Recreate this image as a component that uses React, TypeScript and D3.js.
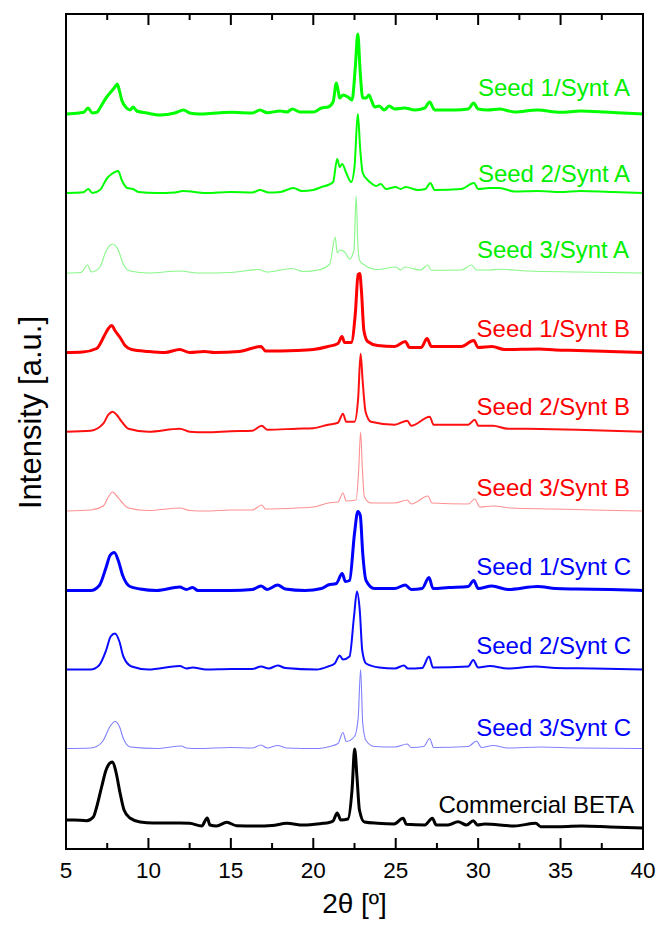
import React from 'react';
import * as d3 from 'd3';

type Pt = [number, number];

const xMajorTicks = [5, 10, 15, 20, 25, 30, 35, 40];
const xMinorTicks = [7.5, 12.5, 17.5, 22.5, 27.5, 32.5, 37.5];

const seriesNames = [
  'Seed 1/Synt A', 'Seed 2/Synt A', 'Seed 3/Synt A',
  'Seed 1/Synt B', 'Seed 2/Synt B', 'Seed 3/Synt B',
  'Seed 1/Synt C', 'Seed 2/Synt C', 'Seed 3/Synt C',
  'Commercial BETA',
];
const lineColors = ['#00ff00', '#00ff00', '#88f888', '#ff0000', '#ff1010', '#ff9090', '#0000ff', '#0a0aff', '#8080ff', '#000000'];
const labelColors = ['#00ee00', '#00ee00', '#00ee00', '#ff0000', '#ff0000', '#ff0000', '#0000ff', '#0000ff', '#0000ff', '#000000'];
const lineWidths = [3, 2, 1.1, 3, 2, 1.1, 3, 2, 1.1, 3];
// vertical offsets of each stacked pattern (a.u.)
const offsets = [735, 656, 576, 496.5, 417.3, 338, 258.5, 179.5, 100.5, 21];

const seed1SyntA: Pt[] = [[5.0,0],[5.8,1],[6.1,2],[6.33,6],[6.6,1],[6.9,2],[7.06,6],[7.47,17],[7.77,23],[7.97,27],[8.11,30],[8.23,24],[8.38,14],[8.68,6],[8.88,4],[9.08,7],[9.29,3],[9.9,1],[10.7,-1],[11.6,1],[12.14,4],[12.5,1],[13.1,0],[14.1,1],[15.1,1.7],[16.3,1],[16.77,4],[17.2,1.3],[18.0,3],[18.4,2],[18.73,5],[19.2,2],[20.0,2],[20.5,6],[20.9,7],[21.2,12],[21.4,31],[21.5,24],[21.6,16],[21.8,19],[22.1,17],[22.35,14],[22.55,47],[22.7,80],[22.85,41],[23.0,16],[23.2,16],[23.38,19],[23.52,14],[23.72,7],[24.0,8],[24.3,4],[24.6,8],[24.94,5],[25.55,6],[26.15,4],[26.76,6],[27.06,12],[27.36,4],[28.58,4],[29.4,5],[29.73,11],[29.99,5],[30.6,4],[31.3,5],[32.2,2],[33.6,4],[35.0,1.7],[36.2,3],[37.7,2],[39.1,0.7],[40,0]];
const seed2SyntA: Pt[] = [[5,0],[6.05,0.7],[6.35,4],[6.6,0],[7.06,3],[7.5,15],[7.77,19],[8.17,22],[8.38,13],[8.72,5],[9.06,4],[9.4,1],[10.5,0],[11.6,0.5],[12.1,2],[13.5,0],[15,1],[16.3,0.5],[16.77,3],[17.3,0.5],[18.0,1],[18.8,5],[19.3,2],[20.0,3],[20.5,6],[20.9,8],[21.2,11],[21.45,34],[21.6,26],[21.75,29],[22.0,20],[22.3,11],[22.5,26],[22.7,79],[22.85,43],[23.0,20],[23.3,13],[23.5,10],[23.8,7],[24.1,9],[24.4,4],[25.0,6],[25.3,4],[25.6,6],[26.35,3],[26.8,4],[27.1,10],[27.36,3],[28.98,4],[29.75,10],[30.0,4],[30.7,5],[31.3,5],[32.2,1.5],[33.6,2],[35,1],[36.2,2],[38,1],[40,0]];
const seed3SyntA: Pt[] = [[5,0],[5.9,0.5],[6.3,8],[6.55,1],[7.06,6],[7.43,22],[7.83,29],[8.17,23],[8.47,9],[8.88,2],[10,0],[11.9,2],[13,0],[15,0.5],[16.67,3.5],[17.2,1],[18.69,4.5],[19.4,1.5],[20.3,3],[21.0,9],[21.33,36],[21.45,20],[21.6,23],[21.9,21],[22.2,14],[22.47,23],[22.6,77],[22.7,30],[22.8,13],[23.1,8],[23.9,3.5],[25.0,6],[25.3,3],[25.55,6],[26.5,3],[26.96,8],[27.16,2.7],[29.0,3],[29.6,8],[29.9,3],[30.7,3],[31.3,3.7],[33,2],[36,1],[40,0]];
const seed1SyntB: Pt[] = [[5,0],[6.0,0.5],[6.86,4],[7.3,16],[7.57,24],[7.77,27],[7.97,22],[8.28,15],[8.58,7],[8.98,3],[10,1],[11,0],[11.9,3],[12.5,0],[13.4,1],[14,0],[15.5,1],[16.83,6],[17.1,1.5],[19,2],[20,3],[20.9,6],[21.5,9],[21.74,16],[21.9,10],[22.3,10],[22.55,39],[22.72,78],[22.82,79],[22.92,62],[23.07,22],[23.3,11],[23.9,7],[24.94,6],[25.58,11],[25.84,5],[26.55,5],[26.9,14],[27.16,6],[28.98,6],[29.73,12],[30.0,5],[30.84,6],[31.6,3],[33.7,3.5],[34.7,2.5],[36,2],[38,1],[40,0]];
const seed2SyntB: Pt[] = [[5,0],[6.5,1],[7.26,8],[7.57,17],[7.83,20],[8.07,17],[8.38,10],[8.78,3],[10,0],[11.9,3],[12.5,0],[13.5,-0.5],[15,0.5],[16.3,1],[16.87,6],[17.2,2],[19,3],[20,3.5],[20.9,7],[21.5,9],[21.8,18],[22.0,10],[22.5,10],[22.72,33],[22.87,78],[22.99,52],[23.17,20],[23.5,10],[24.94,7],[25.7,11],[25.94,6],[27.06,15],[27.3,7],[29.4,7],[29.8,12],[30.0,6],[30.9,6],[31.8,3],[33.8,2.7],[36,2],[38,1],[40,0]];
const seed3SyntB: Pt[] = [[5,0],[6.5,1],[7.26,5],[7.57,14],[7.83,19],[8.03,16],[8.38,9],[8.78,3],[10,0.5],[11.9,3],[12.5,0.5],[13.5,0],[15,1],[16.3,1],[16.87,6],[17.1,2],[19,3],[20,4],[20.9,8],[21.5,9],[21.8,18],[22.0,10],[22.6,11],[22.75,40],[22.87,79],[22.97,45],[23.1,14],[23.5,8],[24.94,8],[25.7,11],[25.94,7],[26.96,15],[27.2,8],[29.4,7],[29.8,12],[30.1,4],[30.9,5],[32.0,3],[34.6,2],[37,1],[40,0]];
const seed1SyntC: Pt[] = [[5,0],[6.5,0],[7.02,5],[7.43,23],[7.67,35],[7.93,38],[8.17,30],[8.44,15],[8.88,4],[9.5,1.5],[10.5,0],[11.9,3.5],[12.3,1],[12.68,3],[13,0],[15,0],[16.3,1],[16.83,4.5],[17.2,1],[17.84,5.5],[18.3,1.5],[19.5,0],[20.5,2],[20.9,5.5],[21.4,7],[21.75,17],[21.95,9],[22.2,10],[22.5,57],[22.7,79],[22.85,75],[23.0,37],[23.2,10],[23.7,2],[24.94,2],[25.58,5.5],[25.94,1],[26.6,2],[27.02,13],[27.26,2],[28.2,3],[29.4,4],[29.73,10],[30.0,2],[30.84,4.5],[31.8,1],[33.6,4],[34.7,2],[36,1.5],[38,1],[40,0]];
const seed2SyntC: Pt[] = [[5,0],[6.5,0],[7.0,4],[7.43,19],[7.71,33],[7.97,36],[8.24,28],[8.48,13],[8.98,3],[10,0],[11.9,3.5],[12.3,1],[12.68,2],[13.5,0],[15,0.5],[16.3,0.5],[16.83,3],[17.3,1],[17.84,4],[18.3,1.5],[20.2,0],[20.9,3],[21.3,6],[21.6,14],[21.8,10],[22.2,13],[22.47,53],[22.65,78],[22.82,59],[22.97,19],[23.2,6],[24.0,2],[24.94,1],[25.5,4],[25.74,1],[26.6,1.5],[27.02,13],[27.26,2],[29.4,3],[29.7,9.5],[30.0,2],[30.7,3.5],[31.8,1],[33.5,3],[34.7,1.5],[37,1],[40,0]];
const seed3SyntC: Pt[] = [[5,0],[6.5,0.5],[6.86,2],[7.26,8],[7.67,22],[7.97,27],[8.24,22],[8.48,10],[8.9,1.5],[10.5,0],[12.0,2.5],[12.3,0.5],[13,0],[15,1],[16.3,0.5],[16.83,3.5],[17.2,0.5],[17.84,3],[18.4,0.5],[20.3,0],[21.0,2],[21.5,5],[21.8,16],[22.0,7],[22.5,12],[22.72,30],[22.87,79],[23.0,25],[23.2,8],[23.7,2],[24.94,1.5],[25.7,4.5],[25.94,1],[26.7,2],[27.06,10],[27.3,1],[29.4,2],[29.9,7.5],[30.2,1],[30.9,3],[31.8,0.5],[33.8,1.5],[36,0.5],[40,0]];
const commercialBeta: Pt[] = [[5,8],[5.5,8],[6.25,7.3],[6.66,11],[6.86,21],[7.16,41],[7.43,58],[7.67,65],[7.83,66],[8.03,56],[8.28,35],[8.52,18],[8.88,10],[9.5,6],[10.3,5],[11.9,5],[12.5,4.7],[13.23,2],[13.57,10],[13.73,3],[14.14,2],[14.75,5.7],[15.35,2.3],[16.57,2],[17.5,2.5],[18.39,4.7],[19.4,3],[20.6,4.7],[20.9,5.3],[21.2,7],[21.45,15],[21.67,8],[22.1,9],[22.35,38],[22.51,79],[22.65,51],[22.8,18],[23.1,6],[23.9,4.7],[24.9,4],[25.45,9.7],[25.65,3.7],[26.76,3],[27.22,9.7],[27.46,3],[28.17,3],[28.78,6.3],[29.3,3],[29.7,7.3],[29.96,3],[30.4,4],[32.2,2],[33.5,4.7],[33.8,1.3],[35.0,1.3],[36.3,2],[38,1],[40,0]];

const allSeries = [seed1SyntA, seed2SyntA, seed3SyntA, seed1SyntB, seed2SyntB, seed3SyntB, seed1SyntC, seed2SyntC, seed3SyntC, commercialBeta];

// layout
const W = 658, H = 927;
const L = 66, R = 643, T = 14, B = 849;
const labelLift = [18, 11.5, 15, 16, 16.5, 15.5, 15.5, 15.5, 13, 15];
const labelRight = [630, 630, 629, 630, 630, 630, 631, 631, 631, 634];
const FONT = "'Liberation Sans', Arial, sans-serif";

export default function App() {
  const x = d3.scaleLinear().domain([5, 40]).range([L, R]);
  const y = d3.scaleLinear().domain([0, B - T]).range([B, T]);

  const paths = allSeries.map((s, i) => {
    const gen = d3.line<Pt>()
      .x(d => x(d[0]))
      .y(d => y(d[1] + offsets[i]))
      .curve(d3.curveMonotoneX);
    return gen(s) || '';
  });

  return (
    <svg width={W} height={H} style={{ position: 'absolute', left: 0, top: 0, background: '#fff' }} fontFamily={FONT}>
      <rect x={0} y={0} width={W} height={H} fill="#fff" />
      <defs>
        <clipPath id="plotclip">
          <rect x={L} y={T} width={R - L} height={B - T} />
        </clipPath>
      </defs>
      <g clipPath="url(#plotclip)">
        {paths.map((p, i) => (
          <path key={i} d={p} fill="none" stroke={lineColors[i]} strokeWidth={lineWidths[i]} strokeLinejoin="round" />
        ))}
      </g>
      {seriesNames.map((n, i) => (
        <text key={n} x={labelRight[i]} y={y(offsets[i]) - labelLift[i]} textAnchor="end" fontSize={24} fill={labelColors[i]}>{n}</text>
      ))}
      {/* frame */}
      <rect x={L} y={T} width={R - L} height={B - T} fill="none" stroke="#000" strokeWidth={2} />
      {xMajorTicks.map(t => (
        <g key={'M' + t}>
          <line x1={x(t)} x2={x(t)} y1={B} y2={B - 11} stroke="#000" strokeWidth={2} />
          <line x1={x(t)} x2={x(t)} y1={T} y2={T + 11} stroke="#000" strokeWidth={2} />
          <text x={x(t)} y={878} textAnchor="middle" fontSize={22.5} fill="#000">{t}</text>
        </g>
      ))}
      {xMinorTicks.map(t => (
        <g key={'m' + t}>
          <line x1={x(t)} x2={x(t)} y1={B} y2={B - 6} stroke="#000" strokeWidth={2} />
          <line x1={x(t)} x2={x(t)} y1={T} y2={T + 6} stroke="#000" strokeWidth={2} />
        </g>
      ))}
      <text x={(L + R) / 2} y={913} textAnchor="middle" fontSize={28} fill="#000">2θ [º]</text>
      <text transform={`translate(41,${(317 + 508) / 2}) rotate(-90)`} textAnchor="middle" fontSize={31} fill="#000">Intensity [a.u.]</text>
    </svg>
  );
}
